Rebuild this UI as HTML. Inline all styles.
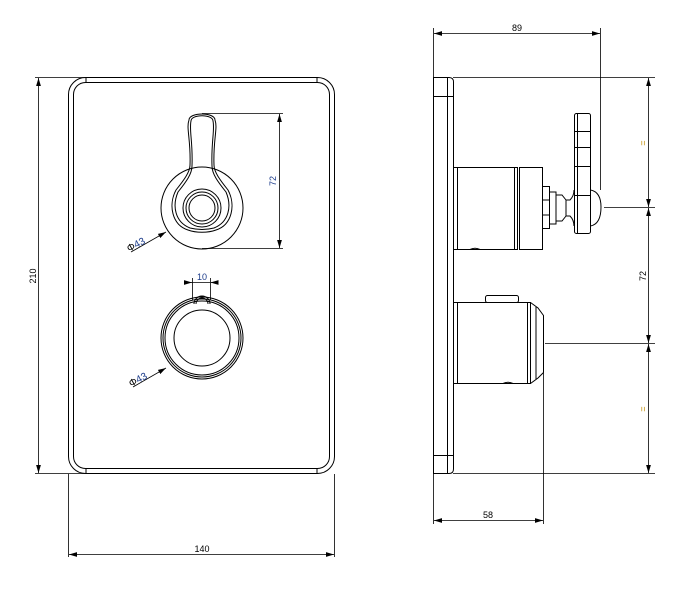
<!DOCTYPE html>
<html><head><meta charset="utf-8"><style>
html,body{margin:0;padding:0;background:#fff;}
svg{display:block;font-family:"Liberation Sans",sans-serif;}
</style></head><body>
<svg width="695" height="590" viewBox="0 0 695 590" xmlns="http://www.w3.org/2000/svg">
<defs>
<marker id="a" viewBox="0 0 10 6" refX="10" refY="3" markerWidth="8" markerHeight="5" orient="auto-start-reverse" markerUnits="userSpaceOnUse"><path d="M0,0 L10,3 L0,6 z" fill="#000"/></marker>
</defs>
<g fill="none" stroke="#000" stroke-width="1">
<rect x="68.5" y="77.5" width="266" height="396" rx="17"/>
<rect x="73.5" y="82.5" width="256" height="386" rx="12"/>
<path d="M86 77.5 V82.5 M317 77.5 V82.5 M86 473.5 V468.5 M317 473.5 V468.5"/>
<circle cx="202" cy="208" r="41"/>
<path d="M189 120 C189 112 215 112 215 120 C218 128 213 140 214 165 C214 172 220 180 228 190 C236 205 232 225 216 230 C208 233 196 233 188 230 C172 225 168 205 176 190 C184 180 190 172 190 165 C191 140 186 128 189 120 Z"/>
<path d="M191 121 C191 114 213 114 213 121 C215 130 211 142 212 166 C212 174 218 182 226 192 C232 206 229 222 214 228 C206 230 198 230 190 228 C175 222 172 206 178 192 C186 182 192 174 192 166 C193 142 189 130 191 121 Z"/>
<circle cx="202" cy="208" r="19"/>
<circle cx="202" cy="208" r="16"/>
<circle cx="202" cy="208" r="13"/>
<path d="M194 304 A8 8 0 0 1 210 304"/>
<path d="M196 304 A6 6 0 0 1 208 304"/>
<circle cx="202" cy="338" r="41"/>
<circle cx="202" cy="338" r="39"/>
<circle cx="202" cy="338" r="37"/>
<circle cx="202" cy="338" r="28"/>
<path d="M202 113.5 H283 M202 248.5 H283" stroke-width="0.8"/>
<path d="M279.5 114 V248" marker-start="url(#a)" marker-end="url(#a)" stroke-width="0.8"/>
<path d="M192.5 300 V278 M210.5 300 V278" stroke-width="0.8"/>
<path d="M184 282.5 H192" marker-end="url(#a)" stroke-width="0.8"/>
<path d="M218 282.5 H210.5" marker-end="url(#a)" stroke-width="0.8"/>
<path d="M192 282.5 H210" stroke-width="0.8"/>
<path d="M131 252 L166 232" marker-end="url(#a)" stroke-width="0.8"/>
<path d="M133 387 L166 368" marker-end="url(#a)" stroke-width="0.8"/>
<path d="M35 77.5 H86 M35 473.5 H86" stroke-width="0.8"/>
<path d="M38.5 78 V473" marker-start="url(#a)" marker-end="url(#a)" stroke-width="0.8"/>
<path d="M68.5 474 V557 M334.5 474 V557" stroke-width="0.8"/>
<path d="M69 554.5 H334" marker-start="url(#a)" marker-end="url(#a)" stroke-width="0.8"/>
<path d="M433.5 77.5 H449 Q453.5 77.5 453.5 82 V469 Q453.5 473.5 449 473.5 H433.5 Z"/>
<path d="M447.5 78 V473 M433.5 96.5 H453 M433.5 455.5 H453"/>
<rect x="453.5" y="167.5" width="64" height="82"/>
<path d="M457.5 168 V249 M514.5 168 V249"/>
<rect x="519.5" y="167.5" width="23" height="82"/>
<rect x="542.5" y="186.5" width="7" height="42"/>
<path d="M542.5 200 H549 M542.5 215 H549"/>
<path d="M549.5 192 H556 V224 H549.5 M556 195 H562 L566 200 V216 L562 221 H556 M566 200 H570 Q574 196 574 190 M566 216 H570 Q574 220 574 226"/>
<rect x="574.5" y="113.5" width="16" height="120" rx="2"/>
<path d="M577.5 114 V233 M574.5 131.5 H590 M574.5 147.5 H590 M574.5 166.5 H590 M574.5 195.5 H590"/>
<path d="M590.5 190 Q601 192 601 207 Q601 224 590.5 226"/>
<path d="M604 207.5 H655" stroke-width="0.8"/>
<rect x="453.5" y="302.5" width="77" height="81"/>
<path d="M457.5 303 V383 M530.5 302.5 L538 308 L543.5 315.5 V372.5 L538 378 L530.5 383.5 M527.5 303 V383 M536 307 V379"/>
<rect x="485.5" y="295.5" width="33" height="7" rx="2"/>
<path d="M503 383.5 Q508 381 513 383.5 M470 249.5 Q475 247 480 249.5"/>
<path d="M545 343.5 H655" stroke-width="0.8"/>
<path d="M433.5 77 V28 M600.5 190 V28" stroke-width="0.8"/>
<path d="M434 33.5 H600" marker-start="url(#a)" marker-end="url(#a)" stroke-width="0.8"/>
<path d="M453 77.5 H655 M453 473.5 H655" stroke-width="0.8"/>
<path d="M648.5 78 V207" marker-start="url(#a)" marker-end="url(#a)" stroke-width="0.8"/>
<path d="M648.5 208 V343" marker-start="url(#a)" marker-end="url(#a)" stroke-width="0.8"/>
<path d="M648.5 344 V473" marker-start="url(#a)" marker-end="url(#a)" stroke-width="0.8"/>
<path d="M433.5 474 V524 M543.5 373 V524" stroke-width="0.8"/>
<path d="M434 520.5 H543" marker-start="url(#a)" marker-end="url(#a)" stroke-width="0.8"/>
</g>
<g font-size="9" fill="#000">
<text x="202" y="552" text-anchor="middle">140</text>
<text transform="translate(36,276) rotate(-90)" text-anchor="middle">210</text>
<text x="517" y="31" text-anchor="middle">89</text>
<text x="488" y="518" text-anchor="middle">58</text>
<text transform="translate(646,276) rotate(-90)" text-anchor="middle">72</text>
<text x="202" y="280" text-anchor="middle" fill="#1a3a8a">10</text>
<text transform="translate(276,181) rotate(-90)" text-anchor="middle" fill="#1a3a8a">72</text>
<text transform="translate(129,252) rotate(-28)" font-size="10">Φ<tspan fill="#1a3a8a">43</tspan></text>
<text transform="translate(131,387) rotate(-28)" font-size="10">Φ<tspan fill="#1a3a8a">43</tspan></text>
<text transform="translate(646,143) rotate(-90)" text-anchor="middle" fill="#c08a00">=</text>
<text transform="translate(646,409) rotate(-90)" text-anchor="middle" fill="#c08a00">=</text>
</g>
</svg>
</body></html>
